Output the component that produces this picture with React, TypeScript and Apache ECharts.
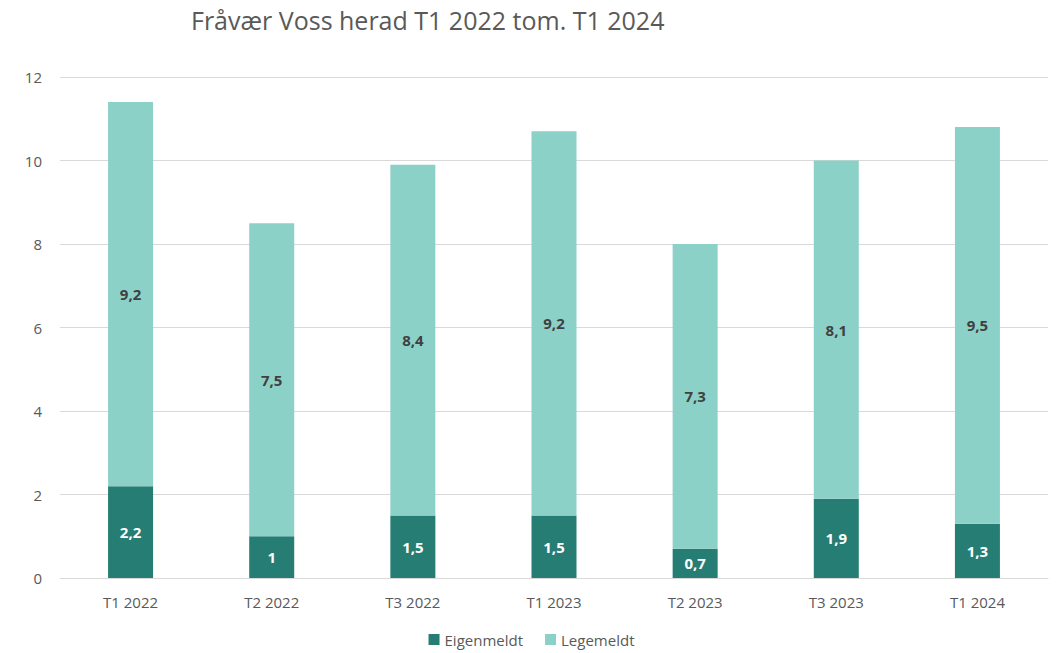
import React, { useEffect, useRef } from "react";
import * as echarts from "echarts";

const categories = ["T1 2022", "T2 2022", "T3 2022", "T1 2023", "T2 2023", "T3 2023", "T1 2024"];
const eigenmeldt = [2.2, 1, 1.5, 1.5, 0.7, 1.9, 1.3];
const legemeldt = [9.2, 7.5, 8.4, 9.2, 7.3, 8.1, 9.5];
const titleText = "Fråvær Voss herad T1 2022 tom. T1 2024";

const FONT = "'Open Sans', 'Noto Sans', sans-serif";
const fmt = (v: number) => String(v).replace(".", ",");

export default function App() {
  const ref = useRef<HTMLDivElement>(null);
  useEffect(() => {
    if (!ref.current) return;
    const chart = echarts.init(ref.current, undefined, { renderer: "svg" });
    chart.setOption({
      animation: false,
      backgroundColor: "#ffffff",
      title: {
        text: titleText,
        left: 186,
        top: 2,
        textStyle: { fontFamily: FONT, fontSize: 25, fontWeight: "normal", color: "#595959" },
      },
      legend: {
        bottom: 1,
        left: "center",
        itemWidth: 11,
        itemHeight: 11,
        itemGap: 22,
        icon: "rect",
        textStyle: { fontFamily: FONT, fontSize: 15, color: "#595959" },
        data: ["Eigenmeldt", "Legemeldt"],
      },
      grid: { left: 60, right: 15, top: 77, bottom: 75, containLabel: false },
      xAxis: {
        type: "category",
        data: categories,
        axisLine: { lineStyle: { color: "#d9d9d9" } },
        axisTick: { show: false },
        axisLabel: { fontFamily: FONT, fontSize: 15, color: "#595959", margin: 16 },
      },
      yAxis: {
        type: "value",
        min: 0,
        max: 12,
        interval: 2,
        axisLine: { show: false },
        axisTick: { show: false },
        splitLine: { lineStyle: { color: "#d9d9d9", width: 1 } },
        axisLabel: { fontFamily: FONT, fontSize: 15, color: "#595959", margin: 18 },
      },
      series: [
        {
          name: "Eigenmeldt",
          type: "bar",
          stack: "total",
          data: eigenmeldt,
          barWidth: 45,
          itemStyle: { color: "#267d73" },
          label: {
            show: true,
            position: "inside",
            fontFamily: FONT,
            fontSize: 15,
            fontWeight: "bold",
            color: "#ffffff",
            formatter: (p: any) => fmt(p.value),
          },
        },
        {
          name: "Legemeldt",
          type: "bar",
          stack: "total",
          data: legemeldt,
          barWidth: 45,
          itemStyle: { color: "#8cd1c8" },
          label: {
            show: true,
            position: "inside",
            fontFamily: FONT,
            fontSize: 15,
            fontWeight: "bold",
            color: "#404040",
            formatter: (p: any) => fmt(p.value),
          },
        },
      ],
    });
    return () => chart.dispose();
  }, []);
  return (
    <div
      ref={ref}
      style={{ position: "fixed", left: 0, top: 0, width: 1063, height: 653 }}
    />
  );
}
